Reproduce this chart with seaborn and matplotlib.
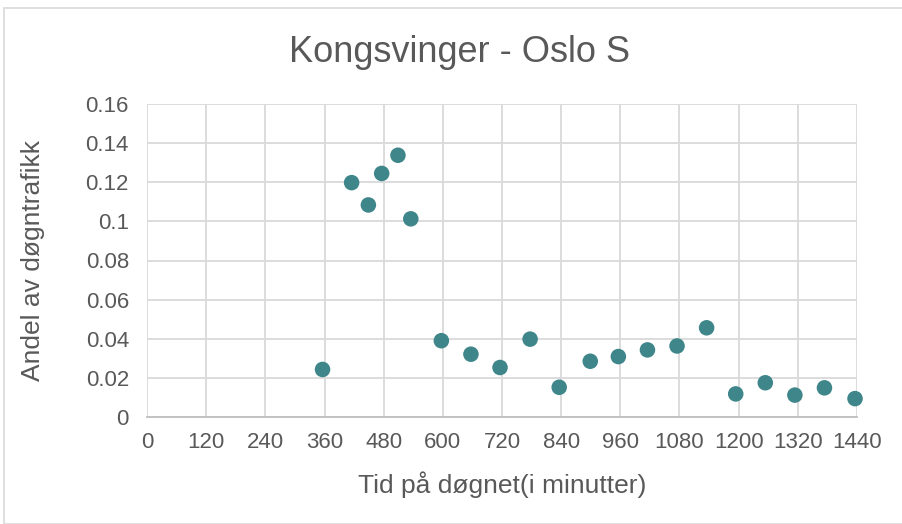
import matplotlib
matplotlib.use("Agg")
import matplotlib.pyplot as plt
import seaborn as sns
import pandas as pd
from matplotlib.patches import Rectangle

# minutter etter midnatt og andel av døgntrafikk
minutter = [356, 415, 449, 476, 509, 535, 597, 657, 716, 777, 836,
            899, 956, 1015, 1075, 1135, 1194, 1254, 1314, 1374, 1436]
andel = [0.0243, 0.1198, 0.1084, 0.1245, 0.1338, 0.1013, 0.0390, 0.0321,
         0.0253, 0.0398, 0.0152, 0.0285, 0.0309, 0.0343, 0.0363, 0.0456,
         0.0118, 0.0175, 0.0112, 0.0149, 0.0094]
x_ticks = list(range(0, 1441, 120))
y_ticks = [0, 0.02, 0.04, 0.06, 0.08, 0.1, 0.12, 0.14, 0.16]
y_labels = ["0", "0.02", "0.04", "0.06", "0.08", "0.1", "0.12", "0.14", "0.16"]

df = pd.DataFrame({"Minutter": minutter, "Andel": andel})

sns.set_theme(style="white")
plt.rcParams['font.family'] = ['Liberation Sans', 'DejaVu Sans']
tekst = "#595959"

fig = plt.figure(figsize=(9.03, 5.24), dpi=100)
ax = fig.add_axes([147 / 903, 1 - 417 / 524, 710 / 903, 313 / 524])

sns.scatterplot(data=df, x="Minutter", y="Andel", ax=ax, s=125,
                color="#3E868A", edgecolor="none", zorder=3, clip_on=False)

ax.set_xlim(0, 1440)
ax.set_ylim(0, 0.16)
ax.set_xticks(x_ticks)
ax.set_yticks(y_ticks)
ax.set_yticklabels(y_labels)
ax.grid(True, color="#D9D9D9", linewidth=1.3)
ax.set_axisbelow(True)
for side in ["top", "right", "left"]:
    ax.spines[side].set_visible(False)
ax.spines["bottom"].set_color("#BFBFBF")
ax.spines["bottom"].set_linewidth(1.3)
ax.tick_params(axis="both", length=0, labelsize=16, colors=tekst)
ax.tick_params(axis="y", pad=13)
ax.tick_params(axis="x", pad=11)

ax.set_xlabel("Tid på døgnet(i minutter)", fontsize=19, color=tekst, va="center")
ax.xaxis.set_label_coords(0.5, (417 - 485) / 313)
ax.set_ylabel("Andel av døgntrafikk", fontsize=19, color=tekst, va="center")
ax.yaxis.set_label_coords((33 - 147) / 710, 0.5)
fig.text(460 / 903, 1 - 52 / 524, "Kongsvinger - Oslo S", fontsize=26,
         color=tekst, ha="center", va="center")

fig.patches.append(Rectangle((4 / 903, 0), 1, 1 - 8 / 524, transform=fig.transFigure,
                             fill=False, edgecolor="#D9D9D9", linewidth=1.2))

fig.savefig("out.png", dpi=100)
